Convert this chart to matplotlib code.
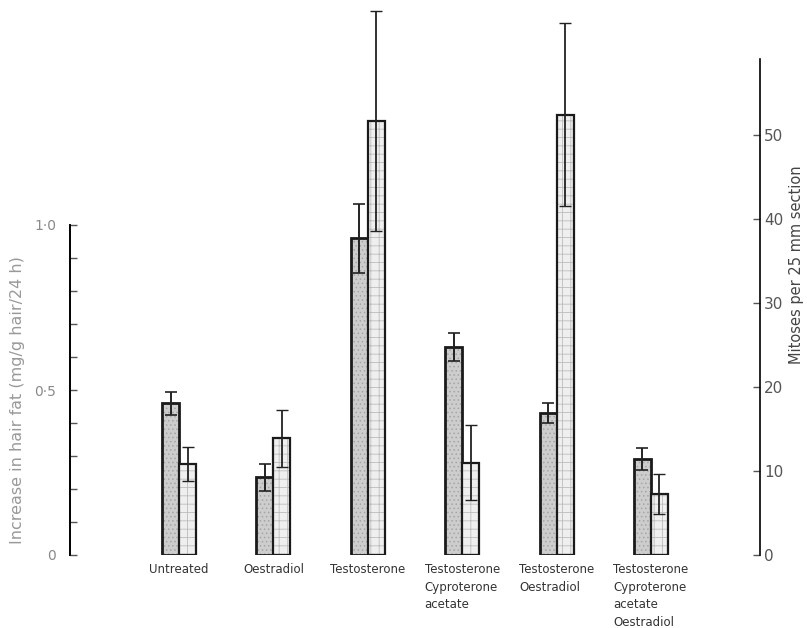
import numpy as np
import matplotlib
matplotlib.use("Agg")
import matplotlib.pyplot as plt

# treatment groups and measurements (hair fat on left axis, mitoses on right axis)
groups = ["Untreated", "Oestradiol", "Testosterone",
          "Testosterone\nCyproterone\nacetate",
          "Testosterone\nOestradiol",
          "Testosterone\nCyproterone\nacetate\nOestradiol"]
hair_fat = [0.46, 0.235, 0.96, 0.63, 0.43, 0.29]
hair_fat_err = [0.035, 0.04, 0.105, 0.043, 0.03, 0.033]
mitoses = [10.8, 13.9, 51.7, 11.0, 52.4, 7.3]
mitoses_err = [2.0, 3.4, 13.1, 4.5, 10.9, 2.4]

fat_ticks = [0, 0.5, 1.0]
fat_ticklabels = ["0", "0\u00b75", "1\u00b70"]
mitoses_ticks = [0, 10, 20, 30, 40, 50]

plt.rcParams["hatch.linewidth"] = 0.6

fig = plt.figure(figsize=(8.07, 6.28), dpi=100)
ax = fig.add_axes([70 / 807, 73 / 628, 690 / 807, 550 / 628])
ax2 = ax.twinx()

x = np.arange(len(groups))
w = 0.18

# hair fat bars: dotted grey fill, then a heavy outline
ax.bar(x - w / 2, hair_fat, w, color="#cdcdcd", hatch="....",
       edgecolor="#a5a5a5", linewidth=0, zorder=2)
ax.bar(x - w / 2, hair_fat, w, fill=False, edgecolor="#1a1a1a",
       linewidth=2.0, zorder=3)
ax.errorbar(x - w / 2, hair_fat, yerr=hair_fat_err, fmt="none",
            ecolor="#222222", elinewidth=1.4, capsize=4, capthick=1.2, zorder=4)

# mitoses bars: pale grid fill
ax2.bar(x + w / 2, mitoses, w, color="#efefef", hatch="++",
        edgecolor="#bcbcbc", linewidth=0, zorder=2)
ax2.bar(x + w / 2, mitoses, w, fill=False, edgecolor="#1a1a1a",
        linewidth=1.6, zorder=3)
ax2.errorbar(x + w / 2, mitoses, yerr=mitoses_err, fmt="none",
             ecolor="#222222", elinewidth=1.3, capsize=4, capthick=1.0, zorder=4)

ax.set_xlim(-1.155, 6.155)
ax.set_ylim(0, 550 / 330)
ax2.set_ylim(0, 550 / 8.4)

for a in (ax, ax2):
    a.spines["top"].set_visible(False)
    a.spines["bottom"].set_visible(False)
ax.spines["right"].set_visible(False)
ax2.spines["left"].set_visible(False)
ax.spines["left"].set_bounds(0, 1.0)
ax.spines["left"].set_linewidth(1.4)
ax2.spines["right"].set_bounds(0, 59)
ax2.spines["right"].set_linewidth(1.2)

# left axis ticks
ax.set_yticks(fat_ticks)
ax.set_yticklabels(fat_ticklabels)
ax.set_yticks(np.arange(0.1, 1.0, 0.1), minor=True)
ax.tick_params(axis="y", which="both", direction="in", length=5, width=1.0,
               color="#555555", labelcolor="#8a8a8a", labelsize=10, pad=10)

# right axis ticks
ax2.set_yticks(mitoses_ticks)
ax2.set_yticklabels([str(t) for t in mitoses_ticks])
ax2.tick_params(axis="y", direction="in", length=5, width=1.0,
                color="#555555", labelcolor="#555555", labelsize=11, pad=3)

# axis titles placed in figure pixels
fig.text(18 / 807, 1 - 400 / 628, "Increase in hair fat (mg/g hair/24 h)",
         rotation=90, ha="center", va="center", color="#999999", fontsize=11.5)
fig.text(797 / 807, 1 - 265 / 628, "Mitoses per 25 mm section",
         rotation=90, ha="center", va="center", color="#444444", fontsize=10.5)

# group labels under the bars
ax.set_xticks([])
for xi, name in zip(x, groups):
    ax.text(xi, -0.025, name, ha="center", va="top", fontsize=8.5,
            color="#333333", multialignment="left", linespacing=1.45)

fig.savefig("out.png", dpi=100)
